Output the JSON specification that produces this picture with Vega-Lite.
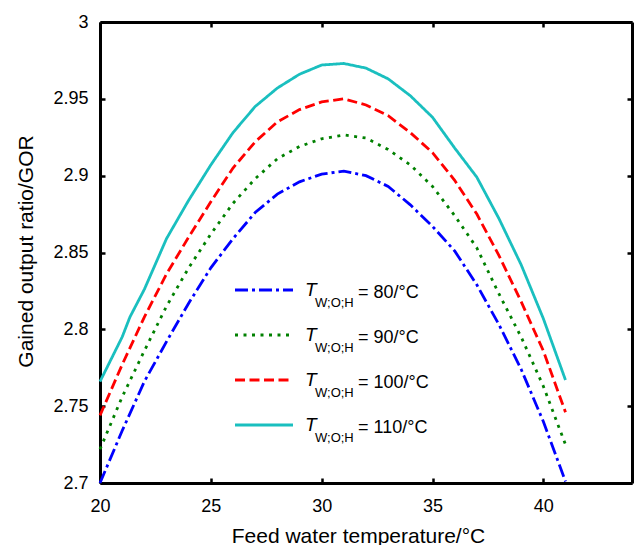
{
  "$schema": "https://vega.github.io/schema/vega-lite/v6.json",
  "width": 532,
  "height": 461,
  "autosize": {"type": "none"},
  "padding": {"left": 100, "top": 22, "right": 3, "bottom": 62},
  "background": "white",
  "config": {
    "view": {"stroke": null},
    "font": "Liberation Sans",
    "axis": {
      "grid": false,
      "domainColor": "black",
      "domainWidth": 3,
      "tickColor": "black",
      "tickWidth": 2.5,
      "tickSize": 5,
      "labelFont": "Liberation Sans",
      "labelFontSize": 18,
      "labelColor": "black",
      "titleFont": "Liberation Sans",
      "titleFontSize": 21,
      "titleFontWeight": "normal",
      "titleColor": "black"
    }
  },
  "data": {
    "values": [
      {"T": 80, "x": 20, "y": 2.700}, {"T": 80, "x": 21, "y": 2.734}, {"T": 80, "x": 22, "y": 2.766}, {"T": 80, "x": 23, "y": 2.792},
      {"T": 80, "x": 24, "y": 2.817}, {"T": 80, "x": 25, "y": 2.840}, {"T": 80, "x": 26, "y": 2.859}, {"T": 80, "x": 27, "y": 2.876},
      {"T": 80, "x": 28, "y": 2.888}, {"T": 80, "x": 29, "y": 2.896}, {"T": 80, "x": 30, "y": 2.901}, {"T": 80, "x": 31, "y": 2.903},
      {"T": 80, "x": 32, "y": 2.900}, {"T": 80, "x": 33, "y": 2.893}, {"T": 80, "x": 34, "y": 2.881}, {"T": 80, "x": 35, "y": 2.867},
      {"T": 80, "x": 36, "y": 2.851}, {"T": 80, "x": 37, "y": 2.829}, {"T": 80, "x": 38, "y": 2.803}, {"T": 80, "x": 39, "y": 2.774},
      {"T": 80, "x": 40, "y": 2.740}, {"T": 80, "x": 41, "y": 2.701},
      {"T": 90, "x": 20, "y": 2.722}, {"T": 90, "x": 21, "y": 2.756}, {"T": 90, "x": 22, "y": 2.786}, {"T": 90, "x": 23, "y": 2.815},
      {"T": 90, "x": 24, "y": 2.840}, {"T": 90, "x": 25, "y": 2.862}, {"T": 90, "x": 26, "y": 2.882}, {"T": 90, "x": 27, "y": 2.898},
      {"T": 90, "x": 28, "y": 2.911}, {"T": 90, "x": 29, "y": 2.919}, {"T": 90, "x": 30, "y": 2.924}, {"T": 90, "x": 31, "y": 2.9265},
      {"T": 90, "x": 32, "y": 2.9245}, {"T": 90, "x": 33, "y": 2.917}, {"T": 90, "x": 34, "y": 2.907}, {"T": 90, "x": 35, "y": 2.893},
      {"T": 90, "x": 36, "y": 2.874}, {"T": 90, "x": 37, "y": 2.853}, {"T": 90, "x": 38, "y": 2.823}, {"T": 90, "x": 39, "y": 2.795},
      {"T": 90, "x": 40, "y": 2.763}, {"T": 90, "x": 41, "y": 2.725},
      {"T": 100, "x": 20, "y": 2.744}, {"T": 100, "x": 21, "y": 2.777}, {"T": 100, "x": 22, "y": 2.808}, {"T": 100, "x": 23, "y": 2.836},
      {"T": 100, "x": 24, "y": 2.860}, {"T": 100, "x": 25, "y": 2.883}, {"T": 100, "x": 26, "y": 2.905}, {"T": 100, "x": 27, "y": 2.922},
      {"T": 100, "x": 28, "y": 2.935}, {"T": 100, "x": 29, "y": 2.943}, {"T": 100, "x": 30, "y": 2.948}, {"T": 100, "x": 31, "y": 2.950},
      {"T": 100, "x": 32, "y": 2.946}, {"T": 100, "x": 33, "y": 2.939}, {"T": 100, "x": 34, "y": 2.928}, {"T": 100, "x": 35, "y": 2.915},
      {"T": 100, "x": 36, "y": 2.897}, {"T": 100, "x": 37, "y": 2.875}, {"T": 100, "x": 38, "y": 2.848}, {"T": 100, "x": 39, "y": 2.818},
      {"T": 100, "x": 40, "y": 2.786}, {"T": 100, "x": 41, "y": 2.746},
      {"T": 110, "x": 20, "y": 2.766}, {"T": 110, "x": 21, "y": 2.795}, {"T": 110, "x": 21.35, "y": 2.808}, {"T": 110, "x": 22, "y": 2.826}, {"T": 110, "x": 23, "y": 2.859},
      {"T": 110, "x": 24, "y": 2.884}, {"T": 110, "x": 25, "y": 2.907}, {"T": 110, "x": 26, "y": 2.928}, {"T": 110, "x": 27, "y": 2.945},
      {"T": 110, "x": 28, "y": 2.957}, {"T": 110, "x": 29, "y": 2.966}, {"T": 110, "x": 30, "y": 2.972}, {"T": 110, "x": 31, "y": 2.973},
      {"T": 110, "x": 32, "y": 2.970}, {"T": 110, "x": 33, "y": 2.963}, {"T": 110, "x": 34, "y": 2.952}, {"T": 110, "x": 35, "y": 2.938},
      {"T": 110, "x": 36, "y": 2.918}, {"T": 110, "x": 37, "y": 2.899}, {"T": 110, "x": 38, "y": 2.872}, {"T": 110, "x": 39, "y": 2.842},
      {"T": 110, "x": 40, "y": 2.807}, {"T": 110, "x": 41, "y": 2.767}
    ]
  },
  "resolve": {"axis": {"x": "independent", "y": "independent"}},
  "layer": [
    {
      "mark": {"type": "line", "strokeWidth": 2.8},
      "encoding": {
        "x": {
          "field": "x", "type": "quantitative",
          "scale": {"domain": [20, 44], "nice": false, "zero": false},
          "axis": {
            "orient": "bottom", "values": [20, 25, 30, 35, 40], "ticks": false,
            "title": "Feed water temperature/°C", "labelFlush": false, "labelPadding": 14,
            "titleX": 258, "titleY": 59, "titleBaseline": "alphabetic", "titleAlign": "center", "titleAnchor": null
          }
        },
        "y": {
          "field": "y", "type": "quantitative",
          "scale": {"domain": [2.7, 3], "nice": false, "zero": false},
          "axis": {
            "orient": "left", "values": [2.7, 2.75, 2.8, 2.85, 2.9, 2.95, 3], "format": ".2~f", "ticks": false,
            "labelPadding": 12,
            "title": "Gained output ratio/GOR", "titleX": -67.5, "titleY": 229, "titleAngle": -90,
            "titleBaseline": "alphabetic", "titleAlign": "center", "titleAnchor": null
          }
        },
        "color": {
          "field": "T", "type": "nominal",
          "scale": {"domain": [80, 90, 100, 110], "range": ["#0000FF", "#008000", "#FF0000", "#1ABFBF"]},
          "legend": {
            "title": null, "orient": "none", "legendX": 133.5, "legendY": 258, "padding": 0,
            "symbolType": "stroke", "symbolSize": 3364, "symbolStrokeWidth": 2.8,
            "labelExpr": "'T'", "labelFont": "Liberation Sans", "labelFontStyle": "italic", "labelFontSize": 19,
            "labelColor": "black", "labelOffset": 10.5, "clipHeight": 20, "rowPadding": 25
          }
        },
        "strokeDash": {
          "field": "T", "type": "nominal",
          "scale": {"domain": [80, 90, 100, 110], "range": [[13, 4, 3, 4], [3, 5.5], [10, 4.5], [1, 0]]},
          "legend": {
            "title": null, "orient": "none", "legendX": 133.5, "legendY": 258, "padding": 0,
            "symbolType": "stroke", "symbolSize": 3364, "symbolStrokeWidth": 2.8,
            "labelExpr": "'T'", "labelFont": "Liberation Sans", "labelFontStyle": "italic", "labelFontSize": 19,
            "labelColor": "black", "labelOffset": 10.5, "clipHeight": 20, "rowPadding": 25
          }
        },
        "opacity": {
          "field": "T", "type": "ordinal",
          "scale": {"range": [1, 1]},
          "legend": {
            "title": null, "orient": "none", "legendX": 202, "legendY": 271, "padding": 0,
            "symbolSize": 0, "symbolStrokeWidth": 0, "symbolOpacity": 0,
            "labelExpr": "'W;O;H'", "labelFont": "Liberation Sans", "labelFontSize": 13,
            "labelColor": "black", "labelOffset": 0, "clipHeight": 20, "rowPadding": 25
          }
        },
        "strokeWidth": {
          "field": "T", "type": "ordinal", "sort": [80, 90, 100, 110],
          "scale": {"range": [2.8, 2.8]},
          "legend": {
            "title": null, "orient": "none", "legendX": 240, "legendY": 261, "padding": 0,
            "symbolSize": 0, "symbolStrokeWidth": 0, "symbolOpacity": 0,
            "labelExpr": "'= ' + datum.label + '/°C'", "labelFont": "Liberation Sans", "labelFontSize": 18,
            "labelColor": "black", "labelOffset": 0, "clipHeight": 20, "rowPadding": 25
          }
        }
      }
    },
    {
      "mark": {"type": "point", "opacity": 0},
      "encoding": {
        "x": {"field": "x", "type": "quantitative", "axis": {"orient": "top", "values": [20, 25, 30, 35, 40], "labels": false, "ticks": false, "title": null}},
        "y": {"field": "y", "type": "quantitative", "axis": {"orient": "right", "values": [2.7, 2.75, 2.8, 2.85, 2.9, 2.95, 3], "labels": false, "ticks": false, "title": null}}
      }
    },
    {
      "mark": {"type": "point", "opacity": 0},
      "encoding": {
        "x": {"field": "x", "type": "quantitative", "axis": {"orient": "bottom", "offset": -5, "domain": false, "values": [20, 25, 30, 35, 40], "labels": false, "title": null}},
        "y": {"field": "y", "type": "quantitative", "axis": {"orient": "left", "offset": -5, "domain": false, "values": [2.7, 2.75, 2.8, 2.85, 2.9, 2.95, 3], "labels": false, "title": null}}
      }
    },
    {
      "mark": {"type": "point", "opacity": 0},
      "encoding": {
        "x": {"field": "x", "type": "quantitative", "axis": {"orient": "top", "offset": -5, "domain": false, "values": [20, 25, 30, 35, 40], "labels": false, "title": null}},
        "y": {"field": "y", "type": "quantitative", "axis": {"orient": "right", "offset": -5, "domain": false, "values": [2.7, 2.75, 2.8, 2.85, 2.9, 2.95, 3], "labels": false, "title": null}}
      }
    }
  ]
}
